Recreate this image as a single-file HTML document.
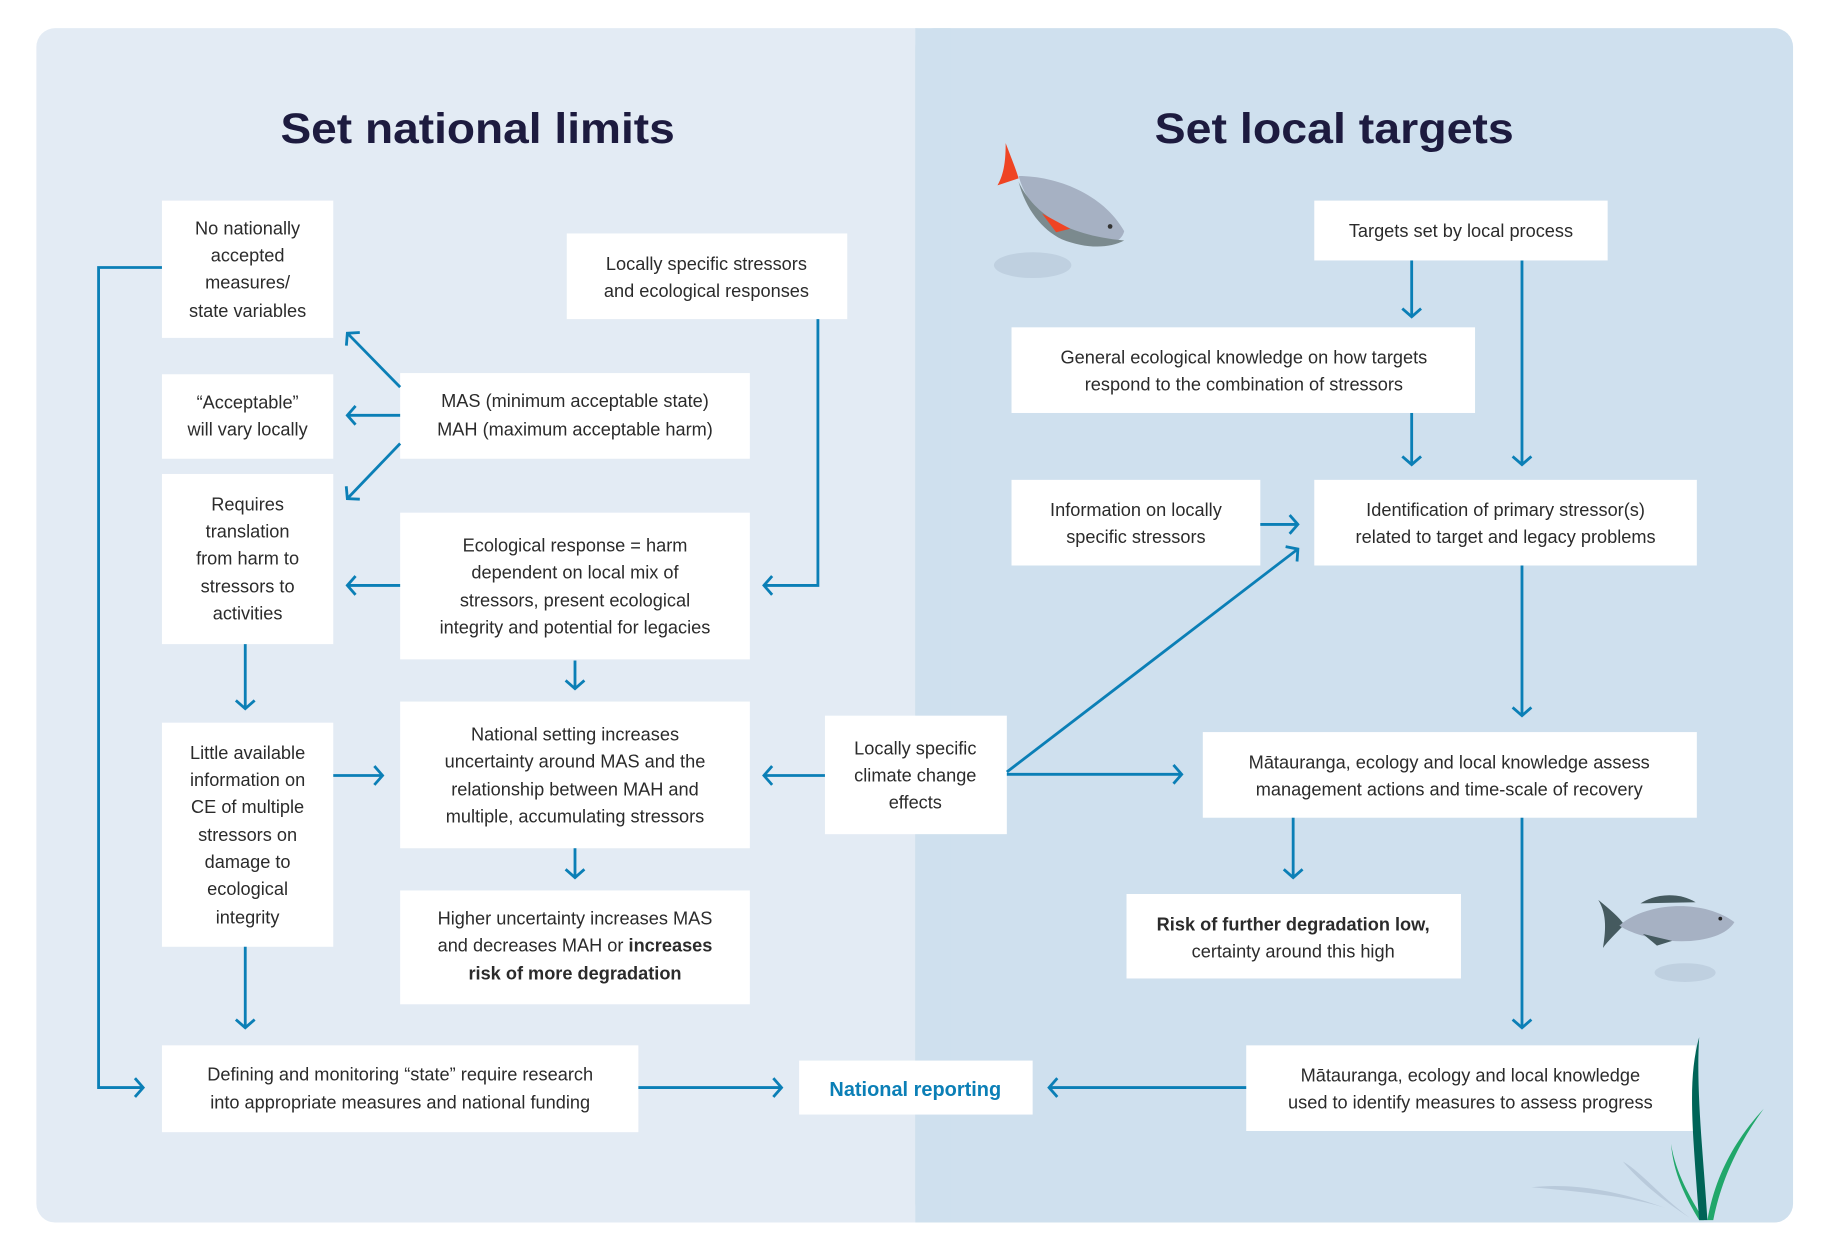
<!DOCTYPE html>
<html><head><meta charset="utf-8"><style>
html,body{margin:0;padding:0;background:#fff;}
svg{display:block;}
text{font-family:"Liberation Sans",sans-serif;fill:#2b2b2b;font-size:15.5px;}
.t{font-size:36px;font-weight:bold;fill:#1d1b3f;}
.b{font-weight:bold;}
</style></head><body>
<svg width="1840" height="1253" viewBox="0 0 1568 1068" preserveAspectRatio="none" xmlns="http://www.w3.org/2000/svg">
<defs>
<marker id="a" markerUnits="userSpaceOnUse" markerWidth="20" markerHeight="20" refX="10" refY="10" orient="auto">
<path d="M3,2 L10,10 L3,18" fill="none" stroke="#0b7fb6" stroke-width="2.4"/>
</marker>
</defs>
<rect width="1568" height="1068" fill="#fff"/>
<rect x="31" y="24" width="765" height="1018" rx="16" fill="#e3ebf4"/>
<rect x="780" y="24" width="748" height="1018" rx="16" fill="#cfe0ee"/>
<rect x="780" y="24" width="30" height="1018" fill="#cfe0ee"/>

<text class="t" x="407" y="122" text-anchor="middle" textLength="336" lengthAdjust="spacingAndGlyphs">Set national limits</text>
<text class="t" x="1137" y="122" text-anchor="middle" textLength="306" lengthAdjust="spacingAndGlyphs">Set local targets</text>

<g>
<ellipse cx="880" cy="226" rx="33" ry="11" fill="#bfd0e0"/>
<path d="M857,122 C862,135 866,145 868,152 L850,158 C856,148 857,135 857,122Z" fill="#ef4423"/>
<path d="M890,170 C905,176 918,182 935,196 L905,198 Z" fill="#ef4423"/>
<path d="M868,150 C900,150 940,165 958,197 C955,210 935,212 915,203 C895,195 875,175 868,150Z" fill="#a6b1c3"/>
<path d="M868,155 C880,180 905,200 958,205 C945,212 925,212 905,204 C888,196 874,178 868,155Z" fill="#7b8a8e"/>
<path d="M888,182 L912,195 L900,198Z" fill="#ef4423"/>
<circle cx="946" cy="193" r="2" fill="#333"/>
</g>
<g>
<ellipse cx="1436" cy="829" rx="26" ry="8" fill="#bfd0e0"/>
<path d="M1398,770 C1410,762 1430,760 1445,769 Z" fill="#455a5f"/>
<path d="M1362,767 C1372,775 1380,782 1384,788 C1378,795 1370,802 1366,808 C1368,795 1370,780 1362,767Z" fill="#455a5f"/>
<path d="M1380,789 C1400,770 1450,765 1478,786 C1470,800 1440,806 1410,800 C1395,797 1386,793 1380,789Z" fill="#a6b1c3"/>
<path d="M1400,796 L1412,806 L1425,802Z" fill="#455a5f"/>
<circle cx="1466" cy="783" r="1.6" fill="#222"/>
</g>
<g>
<path d="M1305,1012 C1340,1008 1380,1015 1420,1030 C1390,1020 1350,1016 1305,1012Z" fill="#b9cadb"/>
<path d="M1383,990 C1400,1000 1415,1020 1440,1038 C1420,1025 1400,1010 1383,990Z" fill="#b9cadb"/>
<path d="M1424,975 C1428,1000 1440,1020 1452,1040 L1448,1040 C1436,1020 1426,1000 1424,975Z" fill="#21a76a"/>
<path d="M1503,945 C1480,970 1462,1000 1455,1040 L1460,1040 C1468,1000 1485,970 1503,945Z" fill="#21a76a"/>
</g>

<g fill="#fff">
<rect x="138" y="171" width="146" height="117"/>
<rect x="483" y="199" width="239" height="73"/>
<rect x="138" y="319" width="146" height="72"/>
<rect x="341" y="318" width="298" height="73"/>
<rect x="138" y="404" width="146" height="145"/>
<rect x="341" y="437" width="298" height="125"/>
<rect x="138" y="616" width="146" height="191"/>
<rect x="341" y="598" width="298" height="125"/>
<rect x="341" y="759" width="298" height="97"/>
<rect x="138" y="891" width="406" height="74"/>
<rect x="681" y="904" width="199" height="46"/>
<rect x="703" y="610" width="155" height="101"/>
<rect x="1120" y="171" width="250" height="51"/>
<rect x="862" y="279" width="395" height="73"/>
<rect x="862" y="409" width="212" height="73"/>
<rect x="1120" y="409" width="326" height="73"/>
<rect x="1025" y="624" width="421" height="73"/>
<rect x="960" y="762" width="285" height="72"/>
<rect x="1062" y="891" width="383" height="73"/>
</g>
<path d="M1448,884 C1438,920 1442,960 1448,1040 L1455,1040 C1452,990 1445,930 1448,884Z" fill="#006457"/>

<g text-anchor="middle">
<text x="211" y="200">No nationally</text><text x="211" y="223">accepted</text><text x="211" y="246">measures/</text><text x="211" y="270">state variables</text>
<text x="602" y="230">Locally specific stressors</text><text x="602" y="253">and ecological responses</text>
<text x="211" y="348">“Acceptable”</text><text x="211" y="371">will vary locally</text>
<text x="490" y="347">MAS (minimum acceptable state)</text><text x="490" y="371">MAH (maximum acceptable harm)</text>
<text x="211" y="435">Requires</text><text x="211" y="458">translation</text><text x="211" y="481">from harm to</text><text x="211" y="505">stressors to</text><text x="211" y="528">activities</text>
<text x="490" y="470">Ecological response = harm</text><text x="490" y="493">dependent on local mix of</text><text x="490" y="517">stressors, present ecological</text><text x="490" y="540">integrity and potential for legacies</text>
<text x="211" y="647">Little available</text><text x="211" y="670">information on</text><text x="211" y="693">CE of multiple</text><text x="211" y="717">stressors on</text><text x="211" y="740">damage to</text><text x="211" y="763">ecological</text><text x="211" y="787">integrity</text>
<text x="490" y="631">National setting increases</text><text x="490" y="654">uncertainty around MAS and the</text><text x="490" y="678">relationship between MAH and</text><text x="490" y="701">multiple, accumulating stressors</text>
<text x="490" y="788">Higher uncertainty increases MAS</text><text x="490" y="811">and decreases MAH or <tspan class="b">increases</tspan></text><text x="490" y="835" class="b">risk of more degradation</text>
<text x="341" y="921">Defining and monitoring “state” require research</text><text x="341" y="945">into appropriate measures and national funding</text>
<text x="780" y="934" class="b" style="fill:#0b7fb6;font-size:17px">National reporting</text>
<text x="780" y="643">Locally specific</text><text x="780" y="666">climate change</text><text x="780" y="689">effects</text>
<text x="1245" y="202">Targets set by local process</text>
<text x="1060" y="310">General ecological knowledge on how targets</text><text x="1060" y="333">respond to the combination of stressors</text>
<text x="968" y="440">Information on locally</text><text x="968" y="463">specific stressors</text>
<text x="1283" y="440">Identification of primary stressor(s)</text><text x="1283" y="463">related to target and legacy problems</text>
<text x="1235" y="655">Mātauranga, ecology and local knowledge assess</text><text x="1235" y="678">management actions and time-scale of recovery</text>
<text x="1102" y="793" class="b">Risk of further degradation low,</text><text x="1102" y="816">certainty around this high</text>
<text x="1253" y="922">Mātauranga, ecology and local knowledge</text><text x="1253" y="945">used to identify measures to assess progress</text>
</g>

<g stroke="#0b7fb6" stroke-width="2.4" fill="none" marker-end="url(#a)">
<path d="M138,228 H84 V927 H122"/>
<path d="M697,272 V499 H651"/>
<path d="M341,330 L296,284"/>
<path d="M341,354 H296"/>
<path d="M341,378 L296,425"/>
<path d="M341,499 H296"/>
<path d="M490,563 V587"/>
<path d="M209,549 V604"/>
<path d="M284,661 H326"/>
<path d="M490,723 V748"/>
<path d="M209,807 V876"/>
<path d="M703,661 H651"/>
<path d="M544,927 H666"/>
<path d="M858,660 H1007"/>
<path d="M858,658 L1106,468"/>
<path d="M1203,222 V270"/>
<path d="M1297,222 V396"/>
<path d="M1203,352 V396"/>
<path d="M1074,447 H1106"/>
<path d="M1297,482 V610"/>
<path d="M1102,697 V748"/>
<path d="M1297,697 V876"/>
<path d="M1062,927 H894"/>
</g>
</svg>
</body></html>
